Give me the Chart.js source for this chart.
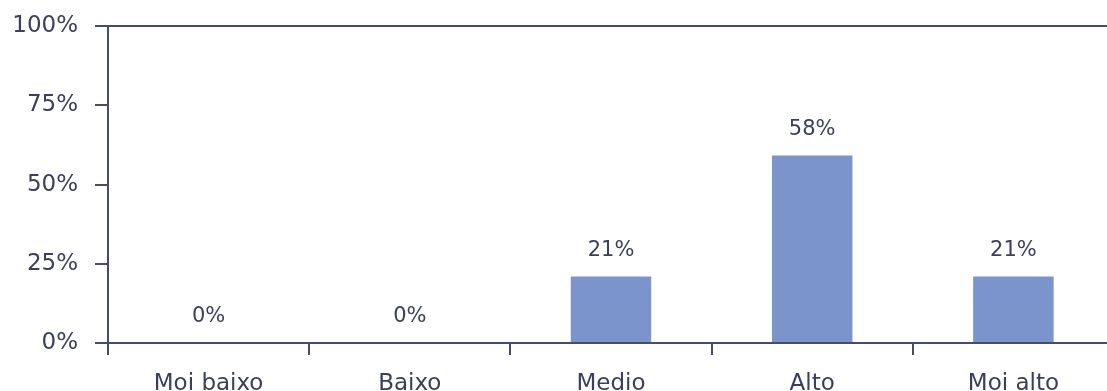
<!DOCTYPE html>
<html>
<head>
<meta charset="utf-8">
<script src="https://cdn.jsdelivr.net/npm/chart.js@4"></script>
<style>
  html, body { margin: 0; padding: 0; background: #fff; overflow: hidden; }
  #wrap { width: 1107px; height: 391px; overflow: hidden; }
</style>
</head>
<body>
<div id="wrap"><canvas id="bar-chart" width="1120" height="391"></canvas></div>
<script>
const categories = ['Moi baixo', 'Baixo', 'Medio', 'Alto', 'Moi alto'];
const shares = [0, 0, 21, 59.2, 21];
const shareLabels = ['0%', '0%', '21%', '58%', '21%'];
const yTicks = [0, 25, 50, 75, 100];

const axisColor = '#474c6e';
const textColor = '#3b3e5c';

// labels above bars
const valueLabels = {
  id: 'valueLabels',
  afterDatasetsDraw(chart) {
    const ctx = chart.ctx;
    const meta = chart.getDatasetMeta(0);
    ctx.save();
    ctx.font = '21px "DejaVu Sans"';
    ctx.fillStyle = textColor;
    ctx.textAlign = 'center';
    ctx.textBaseline = 'middle';
    meta.data.forEach((bar, i) => {
      ctx.fillText(shareLabels[i], bar.x, bar.y - 26);
    });
    ctx.restore();
  }
};

function initializeChart() {
  const ctx = document.getElementById('bar-chart').getContext('2d');
  return new Chart(ctx, {
    type: 'bar',
    data: {
      labels: categories,
      datasets: [{
        data: shares,
        backgroundColor: '#7b94cb',
        borderWidth: 0,
        barPercentage: 0.4,
        categoryPercentage: 1
      }]
    },
    options: {
      responsive: false,
      animation: false,
      layout: { padding: { top: 22, right: 6, left: 0, bottom: 0 } },
      plugins: {
        legend: { display: false },
        tooltip: { enabled: false }
      },
      scales: {
        x: {
          grid: {
            offset: true,
            drawOnChartArea: false,
            tickLength: 12,
            tickColor: axisColor,
            lineWidth: 2
          },
          border: { color: axisColor, width: 2 },
          ticks: {
            color: textColor,
            font: { family: 'DejaVu Sans', size: 23 },
            padding: 15,
            maxRotation: 0
          },
          afterFit(scale) { scale.height = 48; }
        },
        y: {
          min: 0,
          max: 100,
          afterBuildTicks(scale) { scale.ticks = yTicks.map(v => ({ value: v })); },
          grid: {
            color: c => (c.tick && c.tick.value === 100 ? axisColor : 'rgba(0,0,0,0)'),
            tickColor: axisColor,
            tickLength: 13,
            lineWidth: 2
          },
          border: { color: axisColor, width: 2 },
          ticks: {
            color: textColor,
            font: { family: 'DejaVu Sans', size: 23, lineHeight: 0.8 },
            padding: 17,
            callback: v => v + '%'
          },
          afterFit(scale) { scale.width = 108; }
        }
      }
    },
    plugins: [valueLabels]
  });
}

initializeChart();
</script>
</body>
</html>
